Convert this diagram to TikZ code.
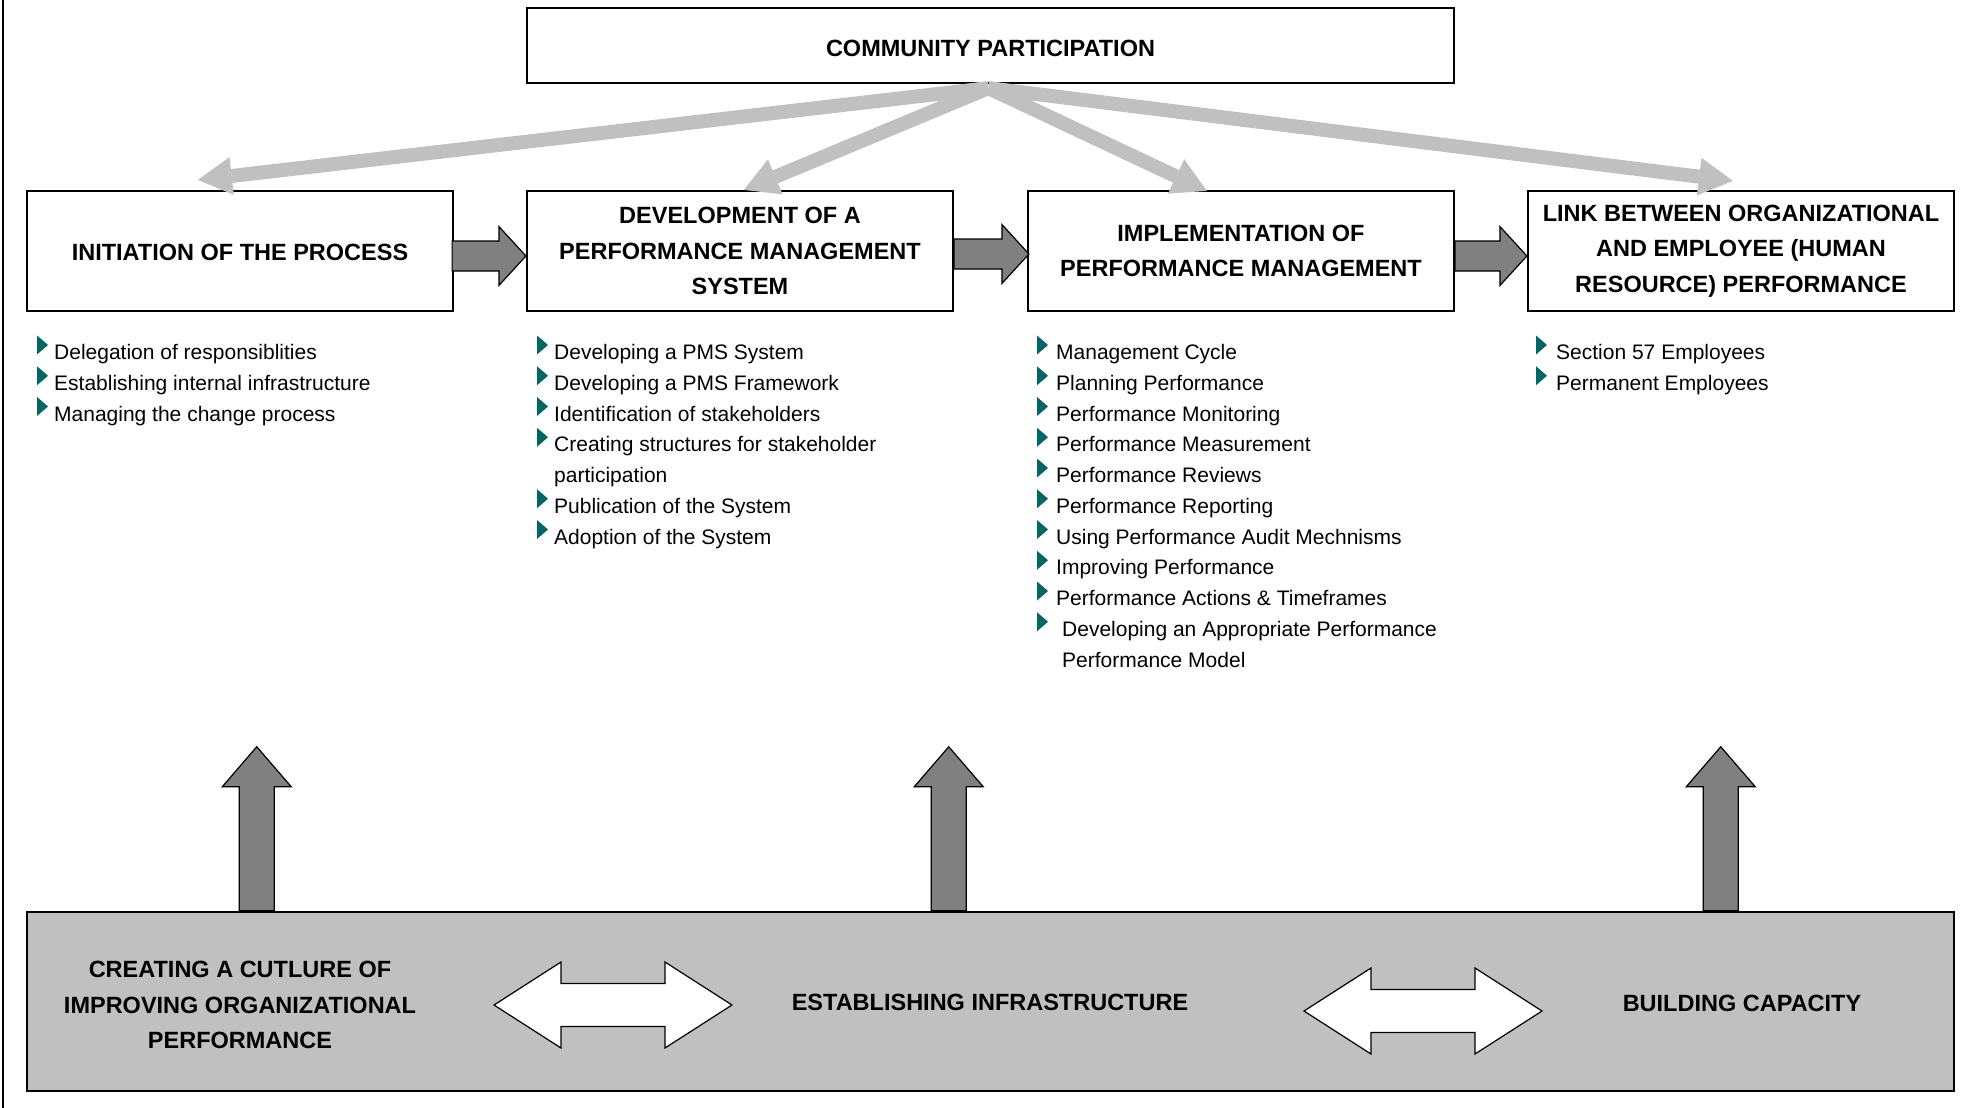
\documentclass[tikz,border=0pt]{standalone}
\usepackage{fontspec}
\setmainfont{Liberation Sans}
\usetikzlibrary{arrows.meta,calc}
\definecolor{lgray}{HTML}{C0C0C0}
\definecolor{dgray}{HTML}{808080}
\definecolor{bulteal}{HTML}{006666}
\newcommand\headfont{\fontsize{23.5pt}{35.5pt}\selectfont\bfseries}
\newcommand\listfont{\fontsize{21pt}{30.75pt}\selectfont}
\newcommand\bul[2]{\fill[bul] (#1,#2-24) -- (#1+11,#2-14.5) -- (#1,#2-5) -- cycle;}
\newcommand\hblock[2]{\path[blk] let \p1=#1, \p2=#2 in
  (\x1,\y1+15pt) -- (\x2-27pt,\y1+15pt) -- (\x2-27pt,\y1+29.5pt) -- (\x2,\y1)
  -- (\x2-27pt,\y1-29.5pt) -- (\x2-27pt,\y1-15pt) -- (\x1,\y1-15pt) -- cycle;}
\newcommand\vblock[2]{\path[blk] let \p1=#1, \p2=#2 in
  (\x1-17.5pt,\y1) -- (\x1-17.5pt,\y2-40pt) -- (\x1-34.5pt,\y2-40pt) -- (\x1,\y2)
  -- (\x1+34.5pt,\y2-40pt) -- (\x1+17.5pt,\y2-40pt) -- (\x1+17.5pt,\y1) -- cycle;}
\newcommand\dblock[2]{\path[dblk] let \p1=#1, \p2=#2 in
  (\x1,\y1) -- (\x1+67pt,\y1+43pt) -- (\x1+67pt,\y1+21.5pt) -- (\x2-67pt,\y1+21.5pt)
  -- (\x2-67pt,\y1+43pt) -- (\x2,\y1) -- (\x2-67pt,\y1-43pt) -- (\x2-67pt,\y1-21.5pt)
  -- (\x1+67pt,\y1-21.5pt) -- (\x1+67pt,\y1-43pt) -- cycle;}
\begin{document}
\begin{tikzpicture}[x=1pt,y=-1pt,
  hbox/.style={draw=black, line width=2.2pt, fill=white, minimum width=426pt,
    minimum height=120pt, align=center, font=\headfont, inner sep=0pt},
  btext/.style={align=center, font=\headfont, inner sep=0pt},
  item/.style={anchor=base west, inner sep=0pt, font=\listfont},
  bul/.style={fill=bulteal},
  blk/.style={fill=dgray, draw=black, line width=1.2pt, line join=miter},
  dblk/.style={fill=white, draw=black, line width=1.2pt, line join=miter},
  carrow/.style={draw=lgray, line width=14pt,
    -{Triangle[length=34pt,width=38pt,line width=0pt]}}]
\useasboundingbox (0,0) rectangle (1982,1108);
\fill[white] (0,0) rectangle (1982,1108);
\draw[line width=2pt] (3,0) -- (3,1108);

% top boxes
\node[hbox, minimum width=927pt, minimum height=75pt] (comm) at (990.5,45.5) {\raisebox{-3pt}[\height][\depth]{COMMUNITY PARTICIPATION}};
\node[hbox] (init) at (240,251) {\raisebox{-1.5pt}[\height][\depth]{INITIATION OF THE PROCESS}};
\node[hbox] (dev) at (740,251) {DEVELOPMENT OF A\\PERFORMANCE MANAGEMENT\\SYSTEM};
\node[hbox] (impl) at (1241,251) {IMPLEMENTATION OF\\PERFORMANCE MANAGEMENT};
\node[hbox] (link) at (1741,251) {LINK BETWEEN ORGANIZATIONAL\\AND EMPLOYEE (HUMAN\\RESOURCE) PERFORMANCE};

% community arrows
\coordinate (apex) at ($(comm.south)+(-2,4)$);
\draw[carrow] (apex) -- ($(init.north west)+(172,-10)$);
\draw[carrow] (apex) -- ($(dev.north west)+(218,0)$);
\draw[carrow] (apex) -- ($(impl.north west)+(180,1)$);
\draw[carrow] (apex) -- ($(link.north west)+(206,-9)$);

% process arrows
\hblock{($(init.east)+(-2,5)$)}{($(dev.west)+(0,5)$)}
\hblock{($(dev.east)+(0,3)$)}{($(impl.west)+(2,3)$)}
\hblock{($(impl.east)+(0,5)$)}{($(link.west)+(0,5)$)}

% lists
\foreach \t [count=\k from 0] in {Delegation of responsiblities, Establishing internal infrastructure, Managing the change process}{
  \node[item] (ini\k) at (54,359.5+30.75*\k) {\t};
  \bul{37}{359.5+30.75*\k}
}
\foreach \t/\k in {Developing a PMS System/0, Developing a PMS Framework/1, Identification of stakeholders/2, Creating structures for stakeholder/3, Publication of the System/5, Adoption of the System/6}{
  \node[item] (dv\k) at (554,359.5+30.75*\k) {\t};
  \bul{537}{359.5+30.75*\k}
}
\node[item] (dv4) at (554,359.5+30.75*4) {participation};
\foreach \t/\k in {Management Cycle/0, Planning Performance/1, Performance Monitoring/2, Performance Measurement/3, Performance Reviews/4, Performance Reporting/5, Using Performance Audit Mechnisms/6, Improving Performance/7, Performance Actions \& Timeframes/8}{
  \node[item] (im\k) at (1056,359.5+30.75*\k) {\t};
  \bul{1037}{359.5+30.75*\k}
}
\node[item] (im9) at (1062,359.5+30.75*9) {Developing an Appropriate Performance};
\bul{1037}{359.5+30.75*9}
\node[item] (im10) at (1062,359.5+30.75*10) {Performance Model};
\foreach \t [count=\k from 0] in {Section 57 Employees, Permanent Employees}{
  \node[item] (lk\k) at (1556,359.5+30.75*\k) {\t};
  \bul{1536}{359.5+30.75*\k}
}

% bottom band
\node[draw=black, line width=2.5pt, fill=lgray, minimum width=1927pt, minimum height=179pt, inner sep=0pt] (bottom) at (990.5,1001.5) {};
\vblock{($(bottom.north west)+(231,0)$)}{($(bottom.north west)+(231,-164)$)}
\vblock{($(bottom.north west)+(923,0)$)}{($(bottom.north west)+(923,-164)$)}
\vblock{($(bottom.north west)+(1695,0)$)}{($(bottom.north west)+(1695,-164)$)}

\node[btext] (culture) at (240,1005) {CREATING A CUTLURE OF\\IMPROVING ORGANIZATIONAL\\PERFORMANCE};
\node[btext] (infra) at (990,1002) {ESTABLISHING INFRASTRUCTURE};
\node[btext] (cap) at (1742,1003) {BUILDING CAPACITY};

\coordinate (d1l) at (494,1005);
\coordinate (d1r) at (732,1005);
\coordinate (d2l) at (1304,1011);
\coordinate (d2r) at (1542,1011);
\dblock{(d1l)}{(d1r)}
\dblock{(d2l)}{(d2r)}
\end{tikzpicture}
\end{document}
